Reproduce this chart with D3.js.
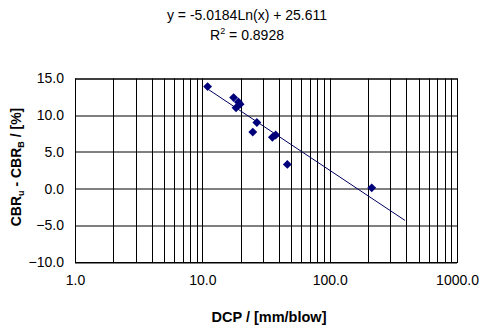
<!DOCTYPE html>
<html>
<head>
<meta charset="utf-8">
<script src="https://cdn.jsdelivr.net/npm/d3@7"></script>
<style>
  body { margin: 0; background: #fff; }
  text { font-family: Arial, "Liberation Sans", sans-serif; }
</style>
</head>
<body>
<div id="chart"></div>
<script>
// data
var dcp = [11.0, 17.6, 19.2, 18.4, 19.8, 26.8, 24.9, 35.5, 37.7, 46.5, 214];
var cbrDiff = [13.9, 12.4, 11.8, 11.0, 11.5, 9.0, 7.7, 7.0, 7.3, 3.3, 0.1];
var yTicks = [-10, -5, 0, 5, 10, 15];
var xTicks = [1, 10, 100, 1000];
var trendA = -5.0184, trendB = 25.611;
var trendRange = [11.0, 390];

var W = 479, H = 327;
var margin = { top: 78.5, right: 22, bottom: 65, left: 75 };
var width = W - margin.left - margin.right;
var height = H - margin.top - margin.bottom;

var svg = d3.select("#chart").append("svg")
  .attr("width", W)
  .attr("height", H);

var g = svg.append("g")
  .attr("transform", "translate(" + margin.left + "," + margin.top + ")");

var xScale = d3.scaleLog().domain([1, 1000]).range([0, width]);
var yScale = d3.scaleLinear().domain([-10, 15]).range([height, 0]);

// vertical grid: every minor log tick
var minor = xScale.ticks();
g.selectAll(".vgrid").data(minor).enter().append("line")
  .attr("class", "vgrid")
  .attr("x1", function (d) { return Math.round(xScale(d)) + 0.5; })
  .attr("x2", function (d) { return Math.round(xScale(d)) + 0.5; })
  .attr("y1", 0).attr("y2", height)
  .attr("stroke", "#000").attr("stroke-width", 1);

g.selectAll(".hgrid").data(yTicks).enter().append("line")
  .attr("class", "hgrid")
  .attr("x1", 0).attr("x2", width)
  .attr("y1", function (d) { return Math.round(yScale(d)) + 0.5; })
  .attr("y2", function (d) { return Math.round(yScale(d)) + 0.5; })
  .attr("stroke", "#000").attr("stroke-width", 1);

g.append("rect")
  .attr("x", 0.5).attr("y", 0.5)
  .attr("width", width).attr("height", height)
  .attr("fill", "none").attr("stroke", "#000");

// axes (labels only)
var yAxis = d3.axisLeft(yScale).tickValues(yTicks).tickSize(0).tickPadding(11)
  .tickFormat(d3.format(".1f"));
g.append("g").call(yAxis)
  .call(function (s) { s.select(".domain").remove(); })
  .selectAll("text")
  .style("font-size", "14px").attr("fill", "#000");

var xAxis = d3.axisBottom(xScale).tickValues(xTicks).tickSize(0).tickPadding(13)
  .tickFormat(d3.format(".1f"));
g.append("g").attr("transform", "translate(0," + height + ")").call(xAxis)
  .call(function (s) { s.select(".domain").remove(); })
  .selectAll("text")
  .style("font-size", "14px").attr("fill", "#000");

// trendline
var trendPts = [];
var lo = Math.log(trendRange[0]), hi = Math.log(trendRange[1]);
[lo, hi].forEach(function (v) {
  var x = Math.exp(v);
  trendPts.push([x, trendA * Math.log(x) + trendB]);
});
g.append("path")
  .datum(trendPts)
  .attr("d", d3.line()
    .x(function (d) { return xScale(d[0]); })
    .y(function (d) { return yScale(d[1]); }))
  .attr("fill", "none")
  .attr("stroke", "#000060")
  .attr("stroke-width", 1);

// markers
g.selectAll(".pt").data(dcp).enter().append("path")
  .attr("class", "pt")
  .attr("d", d3.symbol().type(d3.symbolDiamond2).size(50))
  .attr("transform", function (d, i) {
    return "translate(" + xScale(d) + "," + yScale(cbrDiff[i]) + ")";
  })
  .attr("fill", "#00007a");

// equation
svg.append("text")
  .attr("x", 247).attr("y", 20)
  .attr("text-anchor", "middle")
  .style("font-size", "14px")
  .text("y = -5.0184Ln(x) + 25.611");

var r2 = svg.append("text")
  .attr("x", 247).attr("y", 40)
  .attr("text-anchor", "middle")
  .style("font-size", "14px");
r2.append("tspan").text("R");
r2.append("tspan").attr("dy", -6).style("font-size", "9px").text("2");
r2.append("tspan").attr("dy", 6).text(" = 0.8928");

// axis titles
svg.append("text")
  .attr("x", 269).attr("y", 322)
  .attr("text-anchor", "middle")
  .style("font-size", "14.5px").style("font-weight", "bold")
  .text("DCP / [mm/blow]");

var yl = svg.append("text")
  .attr("transform", "translate(21,167) rotate(-90)")
  .attr("text-anchor", "middle")
  .style("font-size", "14px").style("font-weight", "bold");
yl.append("tspan").text("CBR");
yl.append("tspan").attr("dy", 3).style("font-size", "9px").text("u");
yl.append("tspan").attr("dy", -3).text(" - CBR");
yl.append("tspan").attr("dy", 3).style("font-size", "9px").text("B");
yl.append("tspan").attr("dy", -3).text(" / [%]");
</script>
</body>
</html>
